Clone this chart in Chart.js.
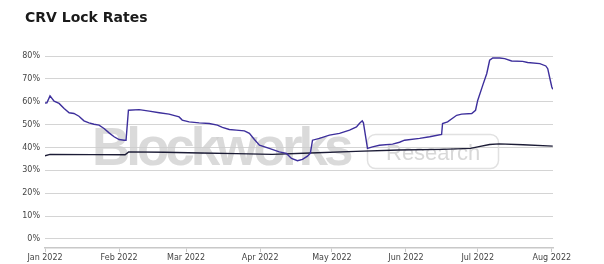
<!DOCTYPE html>
<html>
<head>
<meta charset="utf-8">
<script src="https://cdn.jsdelivr.net/npm/chart.js@4/dist/chart.umd.min.js"></script>
<style>
  html, body { margin: 0; padding: 0; background: #fff; }
  #wrap { position: relative; width: 604px; height: 264px; }
  #title { position: absolute; left: 25px; top: 9px; font: bold 14px "DejaVu Sans", sans-serif; color: #1a1a1a; }
  canvas { position: absolute; left: 0; top: 0; }
</style>
</head>
<body>
<div id="wrap">
  <canvas id="c" width="604" height="264"></canvas>
  <div id="title">CRV Lock Rates</div>
</div>
<script>
// days since 2022-01-01
const monthDays = [0, 31, 59, 90, 120, 151, 181, 212];
const monthLabels = ['Jan 2022', 'Feb 2022', 'Mar 2022', 'Apr 2022', 'May 2022', 'Jun 2022', 'Jul 2022', 'Aug 2022'];
const yTicks = [0, 10, 20, 30, 40, 50, 60, 70, 80];

// blue series
const rateDays = [0, 0.8, 2.1, 3.8, 5.9, 8, 10.1, 12.1, 14.2, 16.3, 18.4, 20.5, 22.6, 24.7, 26.8, 28.9, 31, 33.1, 33.9,
  34.9, 39.4, 43.6, 47.8, 51.9, 56.1, 57.4, 60.3, 64.5, 68.7, 72.1, 74.2, 77.1, 80, 83.4, 85.5, 87.6, 89.7, 93.8, 98,
  101, 103.1, 105.6, 107.7, 109.8, 111, 111.9, 114.8, 119, 123.2, 127.4, 130.3, 131.5, 132.7, 133.2, 134.9, 137, 139.9,
  145.4, 148.3, 150.4, 156.7, 160.9, 165.9, 166.3, 168.4, 172.2, 174.3, 178.5, 180.1, 181, 183.1, 184.8, 186, 187.3,
  190.2, 192.3, 195.2, 199.8, 201.9, 207, 209.5, 210.3, 211.2, 212, 212.4];
const rateVals = [59.5, 59.6, 62.6, 60.3, 59.3, 57.1, 55.2, 54.9, 53.7, 51.7, 50.8, 50.2, 49.8, 48.3, 46.4, 44.7, 43.5, 43.2, 43.2,
  56.3, 56.6, 55.9, 55.2, 54.6, 53.4, 52, 51.2, 50.8, 50.5, 49.8, 48.8, 47.9, 47.6, 47.3, 46.2, 43.5, 41, 39.6, 38.1,
  37.4, 35.2, 34.2, 34.8, 36.2, 37.5, 43.2, 44, 45.4, 46.2, 47.6, 49, 50.5, 51.7, 50.8, 39.6, 40.3, 41,
  41.5, 42.3, 43.2, 44, 44.7, 45.7, 50.5, 51.2, 54.1, 54.6, 54.9, 56.3, 60.6, 67.2, 72.4, 78.2, 79.2,
  79.2, 78.9, 77.9, 77.7, 77.2, 76.7, 75.7, 74.5, 70.2, 66.5, 65.5];

// black series
const baseDays = [0, 2.1, 20, 33.5, 35, 50, 65, 80, 95, 111, 130, 148, 166, 178, 181, 186, 190, 200, 212.4];
const baseVals = [36.4, 37, 36.9, 36.8, 38.1, 37.9, 37.6, 37.3, 37, 37.6, 38.3, 38.9, 39.2, 39.6, 40.3, 41.3, 41.6, 41.2, 40.6];

const toPts = (xs, ys) => xs.map((x, i) => ({ x, y: ys[i] }));

const watermark = {
  id: 'watermark',
  beforeDatasetsDraw(chart) {
    const ctx = chart.ctx;
    ctx.save();
    ctx.fillStyle = 'rgba(205,205,205,0.75)';
    ctx.font = 'bold 53px "Liberation Sans", sans-serif';
    ctx.letterSpacing = '-4px';
    ctx.textBaseline = 'alphabetic';
    ctx.fillText('Blockworks', 92, 165);
    ctx.letterSpacing = '0px';
    ctx.strokeStyle = 'rgba(222,222,222,0.9)';
    ctx.lineWidth = 1.5;
    ctx.beginPath();
    ctx.roundRect(367.5, 134.5, 131, 34, 8);
    ctx.stroke();
    ctx.fillStyle = 'rgba(212,212,212,0.9)';
    ctx.font = '22px "Liberation Sans", sans-serif';
    ctx.fillText('Research', 386, 160);
    ctx.restore();
  }
};

new Chart(document.getElementById('c'), {
  type: 'line',
  data: {
    datasets: [
      { label: 'Lock rate', data: toPts(rateDays, rateVals), borderColor: '#3d2f9c', borderWidth: 1.4, pointRadius: 0, tension: 0 },
      { label: 'Base', data: toPts(baseDays, baseVals), borderColor: '#1c1c36', borderWidth: 1.4, pointRadius: 0, tension: 0 }
    ]
  },
  options: {
    responsive: false,
    animation: false,
    layout: { padding: { left: 0, right: 51, top: 47, bottom: 0 } },
    plugins: { legend: { display: false }, tooltip: { enabled: false } },
    scales: {
      x: {
        type: 'linear', min: 0, max: 212.5,
        afterBuildTicks: s => { s.ticks = monthDays.map(v => ({ value: v })); },
        afterFit: s => { s.height = 16; },
        ticks: { autoSkip: false, maxRotation: 0, padding: 1, color: '#444', font: { family: 'DejaVu Sans', size: 8 },
          callback: v => monthLabels[monthDays.indexOf(v)] },
        grid: { drawOnChartArea: false, drawTicks: true, tickLength: 4, color: '#c8c8c8' },
        border: { display: true, color: '#c8c8c8', width: 1.5 }
      },
      y: {
        min: -4, max: 84,
        afterBuildTicks: s => { s.ticks = yTicks.map(v => ({ value: v })); },
        afterFit: s => { s.width = 45; },
        ticks: { padding: 5, color: '#444', font: { family: 'DejaVu Sans', size: 8 }, callback: v => v + '%' },
        grid: { color: '#d4d4d4', drawTicks: false },
        border: { display: false }
      }
    }
  },
  plugins: [watermark]
});
</script>
</body>
</html>
